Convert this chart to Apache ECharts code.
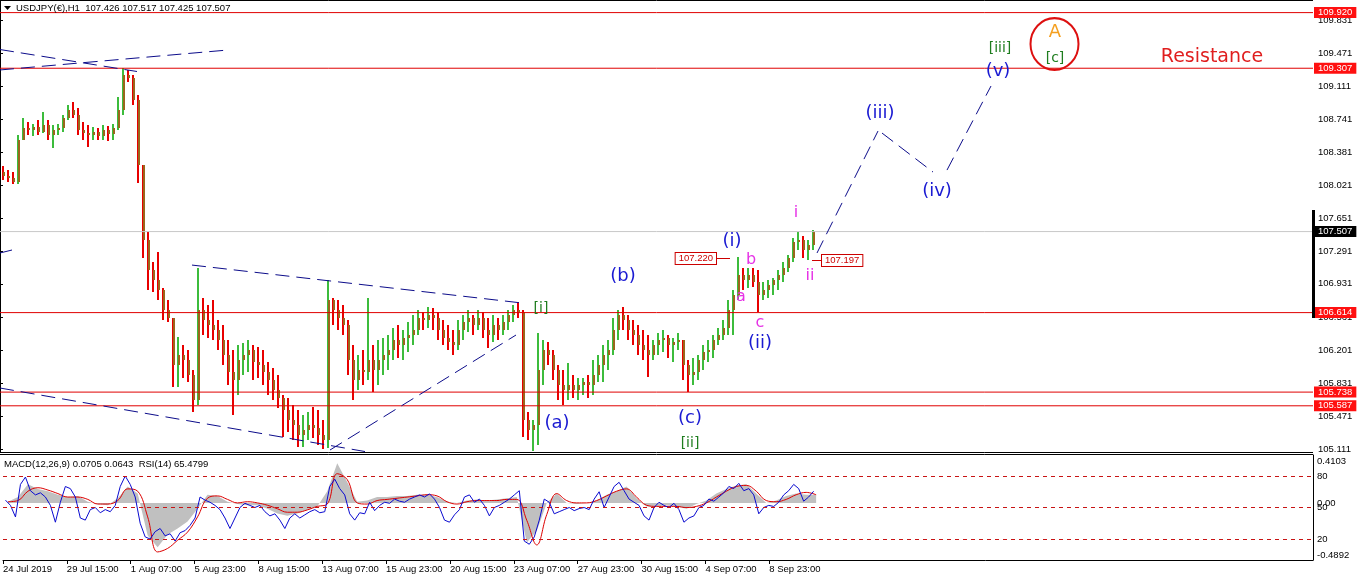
<!DOCTYPE html>
<html><head><meta charset="utf-8">
<script src="https://cdn.jsdelivr.net/npm/echarts@6/dist/echarts.min.js"></script>
<style>html,body{margin:0;padding:0;background:#fff}#c{width:1361px;height:584px}</style>
</head><body><div id="c"></div>
<script>
// ---------- DATA ----------
const HOURS_PER_BAR = 5;
const opens = [
108.163,108.119,108.097,108.053,108.516,108.648,108.626,108.659,108.604,108.681,
108.571,108.626,108.648,108.758,108.847,108.792,108.626,108.593,108.571,108.604,
108.560,108.626,108.582,108.648,108.847,109.232,109.199,108.957,108.241,107.414,
107.083,106.973,106.863,106.643,106.554,106.037,106.147,106.092,105.926,105.651,
106.643,106.532,106.477,106.422,106.312,106.147,105.959,105.871,106.092,106.147,
106.202,106.070,106.037,105.959,105.871,105.761,105.673,105.541,105.430,105.375,
105.265,105.320,105.375,105.342,105.265,105.210,106.753,106.643,106.554,106.477,
106.092,105.871,105.981,105.959,106.092,105.981,106.092,106.147,106.202,106.312,
106.257,106.334,106.367,106.422,106.554,106.532,106.587,106.554,106.422,106.334,
106.290,106.257,106.422,106.510,106.554,106.477,106.554,106.422,106.367,106.477,
106.422,106.510,106.587,106.643,106.620,105.430,105.320,105.375,105.981,106.202,
106.147,105.981,105.816,105.761,105.816,105.761,105.816,105.849,105.816,105.926,
106.037,106.147,106.202,106.422,106.587,106.532,106.422,106.367,106.257,106.202,
106.147,106.257,106.312,106.334,106.257,106.290,106.312,106.037,105.926,105.959,
106.092,106.180,106.202,106.312,106.367,106.444,106.643,106.808,107.028,106.973,
107.028,106.951,106.808,106.863,106.918,106.973,107.028,107.105,107.216,107.392,
107.414,107.304,107.359];
const highs = [
108.230,108.185,108.163,108.571,108.758,108.714,108.692,108.736,108.825,108.736,
108.681,108.692,108.792,108.902,108.935,108.869,108.714,108.681,108.659,108.648,
108.681,108.670,108.692,108.990,109.310,109.288,109.232,109.012,108.241,107.502,
107.171,107.282,106.885,106.753,106.554,106.345,106.257,106.202,105.981,107.105,
106.775,106.698,106.753,106.532,106.477,106.312,106.202,106.257,106.279,106.312,
106.257,106.235,106.202,106.070,106.003,105.926,105.706,105.673,105.596,105.541,
105.485,105.519,105.574,105.541,105.430,106.973,106.775,106.753,106.698,106.532,
106.257,106.147,106.202,106.775,106.257,106.312,106.334,106.367,106.444,106.477,
106.422,106.510,106.587,106.643,106.620,106.675,106.664,106.620,106.532,106.477,
106.422,106.532,106.587,106.643,106.587,106.643,106.620,106.554,106.587,106.554,
106.587,106.643,106.698,106.731,106.643,105.519,105.430,106.389,106.312,106.290,
106.202,106.037,105.981,106.059,105.926,105.893,105.893,105.926,106.092,106.147,
106.257,106.312,106.554,106.643,106.675,106.587,106.532,106.477,106.422,106.367,
106.312,106.389,106.422,106.367,106.334,106.389,106.312,106.092,106.114,106.147,
106.257,106.312,106.367,106.444,106.532,106.753,106.863,107.227,107.105,107.105,
107.105,107.083,106.951,106.973,106.995,107.083,107.171,107.249,107.436,107.502,
107.458,107.414,107.524];
const lows = [
108.075,108.053,108.031,108.031,108.516,108.571,108.560,108.571,108.593,108.516,
108.428,108.571,108.604,108.736,108.758,108.571,108.516,108.439,108.516,108.516,
108.516,108.505,108.516,108.626,108.792,109.155,108.902,108.042,107.216,106.863,
106.841,106.753,106.532,106.510,105.794,105.794,105.893,105.849,105.519,105.596,
106.367,106.334,106.312,106.202,106.037,105.816,105.485,105.706,105.926,105.959,
105.871,105.893,105.816,105.706,105.651,105.563,105.243,105.298,105.210,105.133,
105.133,105.210,105.232,105.155,105.111,105.122,106.477,106.422,106.367,105.926,
105.651,105.761,105.816,105.871,105.739,105.816,105.926,105.981,106.092,106.114,
106.092,106.180,106.257,106.367,106.422,106.444,106.422,106.312,106.257,106.202,
106.147,106.202,106.312,106.400,106.367,106.422,106.334,106.224,106.290,106.312,
106.367,106.422,106.510,106.554,105.243,105.210,105.090,105.155,105.816,106.037,
105.871,105.651,105.596,105.651,105.673,105.651,105.706,105.673,105.706,105.849,
105.849,105.981,106.147,106.312,106.422,106.312,106.257,106.147,106.092,105.904,
106.092,106.147,106.180,106.114,106.070,106.202,105.871,105.739,105.816,105.871,
105.981,106.070,106.114,106.257,106.312,106.367,106.367,106.753,106.863,106.885,
106.896,106.620,106.753,106.775,106.808,106.863,106.951,107.061,107.171,107.304,
107.216,107.194,107.304];
const closes = [
108.119,108.097,108.053,108.516,108.648,108.626,108.659,108.604,108.681,108.571,
108.626,108.648,108.758,108.847,108.792,108.626,108.593,108.571,108.604,108.560,
108.626,108.582,108.648,108.847,109.232,109.199,108.957,108.241,107.414,107.083,
106.973,106.863,106.643,106.554,106.037,106.147,106.092,105.926,105.651,106.643,
106.532,106.477,106.422,106.312,106.147,105.959,105.871,106.092,106.147,106.202,
106.070,106.037,105.959,105.871,105.761,105.673,105.541,105.430,105.375,105.265,
105.320,105.375,105.342,105.265,105.210,106.753,106.643,106.554,106.477,106.092,
105.871,105.981,105.959,106.092,105.981,106.092,106.147,106.202,106.312,106.257,
106.334,106.367,106.422,106.554,106.532,106.587,106.554,106.422,106.334,106.290,
106.257,106.422,106.510,106.554,106.477,106.554,106.422,106.367,106.477,106.422,
106.510,106.587,106.643,106.620,105.430,105.320,105.375,105.981,106.202,106.147,
105.981,105.816,105.761,105.816,105.761,105.816,105.849,105.816,105.926,106.037,
106.147,106.202,106.422,106.587,106.532,106.422,106.367,106.257,106.202,106.147,
106.257,106.312,106.334,106.257,106.290,106.312,106.037,105.926,105.959,106.092,
106.180,106.202,106.312,106.367,106.444,106.643,106.808,107.028,106.973,107.028,
106.951,106.808,106.863,106.918,106.973,107.028,107.105,107.216,107.392,107.414,
107.304,107.359,107.507];
const rsiValues = [
57,52,41,72,79,66,62,64,60,52, 36,55,70,68,60,40,38,48,50,45,
48,46,52,70,80,72,60,35,22,20, 27,30,23,25,18,26,28,33,40,60,
57,55,52,48,40,30,40,50,54,52, 50,52,46,42,44,38,30,40,44,40,
43,46,48,45,46,70,77,68,62,44, 38,45,44,55,47,52,55,54,58,56,
55,58,60,62,60,63,58,50,38,36, 43,48,60,62,55,58,52,42,50,52,
55,58,62,66,18,15,22,38,58,55, 44,46,48,50,47,49,50,48,58,65,
50,60,70,74,66,58,55,52,42,38, 50,55,52,50,54,48,36,40,42,50,
52,58,56,60,64,70,68,73,66,68, 62,44,50,52,51,55,62,66,72,68,
56,60,65.48];
const MACD_STEP = 10;
const macdHist = [
0.01,0.05,0.16,0.12,0.10,0.07,0.05,0.06,0.01,-0.01,
-0.02,0.04,0.14,0.08,-0.28,-0.38,-0.27,-0.22,-0.16,-0.05,
0.07,0.06,0.01,-0.01,-0.02,-0.02,-0.05,-0.09,-0.11,-0.09,
-0.06,-0.03,0.10,0.34,0.18,0.01,0.02,0.05,0.05,0.06,
0.06,0.07,0.07,0.05,0.01,0.00,0.02,0.03,0.02,0.03,
0.04,0.05,-0.34,-0.24,0.00,0.08,0.00,-0.01,0.00,0.02,
0.07,0.10,0.14,0.04,-0.03,-0.03,-0.02,-0.03,-0.05,-0.01,
0.02,0.08,0.12,0.15,0.16,0.08,0.00,0.02,0.06,0.08,
0.07,0.07];
const macdSignal = [
0.01,0.02,0.10,0.13,0.11,0.08,0.05,0.05,0.03,-0.01,
-0.01,0.02,0.12,0.10,-0.12,-0.42,-0.39,-0.32,-0.25,-0.12,
0.04,0.06,0.03,0.00,0.01,0.00,-0.02,-0.05,-0.08,-0.08,
-0.06,-0.03,-0.01,0.25,0.20,0.00,-0.01,0.02,0.03,0.04,
0.05,0.06,0.07,0.06,0.01,-0.01,0.01,0.02,0.02,0.02,
0.03,0.03,-0.15,-0.36,-0.10,0.08,0.02,0.00,0.00,0.02,
0.06,0.10,0.12,0.05,-0.02,-0.03,-0.03,-0.03,-0.04,-0.03,
0.00,0.05,0.10,0.14,0.15,0.10,0.02,0.01,0.03,0.07,
0.09,0.07];
const priceTicks = ['105.111','105.471','105.831','106.201','106.561','106.931','107.291','107.651','108.021','108.381','108.741','109.111','109.471','109.831'];
const timeLabels = ['24 Jul 2019','29 Jul 15:00','1 Aug 07:00','5 Aug 23:00','8 Aug 15:00','13 Aug 07:00','15 Aug 23:00','20 Aug 15:00','23 Aug 07:00','27 Aug 23:00','30 Aug 15:00','4 Sep 07:00','8 Sep 23:00'];
const HOURS_PER_TIME_LABEL = 64;
const levelPrices = [109.920, 109.307, 106.614, 105.738, 105.587];
const lastPrice = 107.507;
const headerSymbol = 'USDJPY(€),H1';
const headerQuote = ['107.426','107.517','107.425','107.507'];
const macdHeaderValues = ['0.0705','0.0643'];
const rsiHeaderValue = '65.4799';
const macdTicks = ['0.4103','0.00','-0.4892'];
const rsiTicks = ['20','50','80'];
const rsiLevels = [80, 50, 20];

// annotations (time-hour, price)
const waveLabels = [
 {t:'[i]', x:541, p:106.665, k:'green'},
 {t:'[ii]', x:690, p:105.177, k:'green'},
 {t:'[iii]', x:1000, p:109.530, k:'green'},
 {t:'[c]', x:1055, p:109.420, k:'green'},
 {t:'A', x:1055, p:109.700, k:'orange'},
 {t:'(a)', x:557, p:105.397, k:'blue'},
 {t:'(b)', x:623, p:107.017, k:'blue'},
 {t:'(c)', x:690, p:105.452, k:'blue'},
 {t:'(i)', x:732, p:107.403, k:'blue'},
 {t:'(ii)', x:760, p:106.279, k:'blue'},
 {t:'(iii)', x:880, p:108.814, k:'blue'},
 {t:'(iv)', x:937, p:107.954, k:'blue'},
 {t:'(v)', x:998, p:109.277, k:'blue'},
 {t:'a', x:741, p:106.786, k:'pink'},
 {t:'b', x:751, p:107.194, k:'pink'},
 {t:'c', x:760, p:106.499, k:'pink'},
 {t:'i', x:796, p:107.712, k:'pink'},
 {t:'ii', x:810, p:107.017, k:'pink'},
 {t:'Resistance', x:1212, p:109.431, k:'res'}
];
const trendLines = [
 [[0,109.513],[137,109.271]],
 [[0,109.288],[228,109.508]],
 [[0,107.271],[12,107.304]],
 [[192,107.138],[522,106.720]],
 [[0,105.783],[365,105.083]],
 [[330,105.100],[516,106.367]],
 [[817,107.271],[878,108.615]],
 [[882,108.593],[933,108.163]],
 [[947,108.185],[991,109.111]]
];
const priceTags = [
 {v:'107.220', x:730, p:107.220, side:'left'},
 {v:'107.197', x:812, p:107.197, side:'right'}
];
const circleMark = [[1054.5, 109.574]];

// ---------- STYLE ----------
const FONT = '"Liberation Sans", Arial, sans-serif';
const UP = '#3cbc3c', DOWN = '#e80000', BODY = '#9a661c';
const NAVY = '#0c0c8a';
const LEVEL_RED = '#e00000';
const labelStyles = {
 green: {color:'#1e7d1e', font:'14px "DejaVu Sans"'},
 blue: {color:'#1a1ad2', font:'18px "DejaVu Sans"'},
 pink: {color:'#e632e6', font:'16px "DejaVu Sans"'},
 orange: {color:'#f5a020', font:'18px "DejaVu Sans"'},
 res: {color:'#e01e1e', font:'19px "DejaVu Sans"'}
};

const X_MAX = 1313;
const candleData = closes.map((c,i)=>[i*HOURS_PER_BAR + HOURS_PER_BAR/2, opens[i], c, lows[i], highs[i]]);
const rsiData = rsiValues.map((v,i)=>[i*HOURS_PER_BAR + HOURS_PER_BAR/2, v]);
const histData = macdHist.map((v,i)=>[i*MACD_STEP + MACD_STEP/2, v]);
const sigData = macdSignal.map((v,i)=>[i*MACD_STEP + MACD_STEP/2, v]);
const timeTickValues = timeLabels.map((_,i)=>i*HOURS_PER_TIME_LABEL);
const macdTickValues = macdTicks.map(Number);

function renderCandle(params, api){
  const x = api.value(0), o = api.value(1), c = api.value(2), l = api.value(3), h = api.value(4);
  const pt = api.coord([x,h]), pb = api.coord([x,l]), po = api.coord([x,o]), pc = api.coord([x,c]);
  const up = c >= o;
  const cx = Math.round(pt[0]);
  const bt = Math.min(po[1], pc[1]);
  const bh = Math.max(1, Math.abs(po[1]-pc[1]));
  return {type:'group', children:[
    {type:'rect', shape:{x:cx-1, y:pt[1], width:2, height:Math.max(1,pb[1]-pt[1])}, style:{fill: up?UP:DOWN}},
    {type:'rect', shape:{x:cx, y:bt, width:2, height:bh}, style:{fill: BODY}}
  ]};
}

function levelSeries(p, lineColor, boxColor){
  return {
    type:'line', xAxisIndex:0, yAxisIndex:0, data:[[0,p],[X_MAX,p]], symbol:'none', silent:true, z:3,
    lineStyle:{color:lineColor, width:1, type:'solid'},
    endLabel:{show:true, formatter:p.toFixed(3), backgroundColor:boxColor, color:'#fff',
      padding:[1,4,0,4], distance:1, fontSize:9.5, fontFamily:FONT, lineHeight:10}
  };
}

const series = [];
series.push({
  type:'custom', name:'price', xAxisIndex:0, yAxisIndex:0, data:candleData,
  encode:{x:0, y:[1,2,3,4]}, renderItem:renderCandle, z:2, silent:true
});
series.push(levelSeries(lastPrice, '#c8c8c8', '#000'));
levelPrices.forEach(p=>series.push(levelSeries(p, LEVEL_RED, '#ff1010')));
trendLines.forEach(seg=>{
  series.push({type:'line', xAxisIndex:0, yAxisIndex:0, data:seg, symbol:'none', silent:true, z:4,
    lineStyle:{color:NAVY, width:1, type:[14,7]}});
});
series.push({
  type:'custom', xAxisIndex:0, yAxisIndex:0, clip:false, z:6, silent:true,
  data: waveLabels.map(w=>[w.x, w.p]),
  renderItem:(params, api)=>{
    const w = waveLabels[params.dataIndex];
    const pt = api.coord([api.value(0), api.value(1)]);
    const st = labelStyles[w.k];
    return {type:'text', x:pt[0], y:pt[1], style:{text:w.t, fill:st.color, font:st.font, align:'center', verticalAlign:'middle'}};
  }
});
series.push({
  type:'custom', xAxisIndex:0, yAxisIndex:0, clip:false, z:6, silent:true,
  data: priceTags.map(t=>[t.x, t.p]),
  renderItem:(params, api)=>{
    const t = priceTags[params.dataIndex];
    const pt = api.coord([api.value(0), api.value(1)]);
    const left = t.side === 'left';
    const lx2 = left ? pt[0]-14 : pt[0]+10;
    const y = Math.round(pt[1]) + 0.5;
    return {type:'group', children:[
      {type:'line', shape:{x1:pt[0], y1:y, x2:lx2, y2:y}, style:{stroke:'#cc0000', lineWidth:1}},
      {type:'text', x:lx2, y:y, style:{text:t.v, fill:'#cc0000', font:'9.5px '+FONT, align:left?'right':'left', verticalAlign:'middle',
        backgroundColor:'#fff', borderColor:'#cc0000', borderWidth:1, padding:[1,3,0,3]}}
    ]};
  }
});
series.push({
  type:'custom', xAxisIndex:0, yAxisIndex:0, clip:false, z:5, silent:true,
  data: circleMark,
  renderItem:(params, api)=>{
    const pt = api.coord([api.value(0), api.value(1)]);
    return {type:'circle', x:pt[0], y:pt[1], scaleY:1.08, shape:{cx:0, cy:0, r:24}, style:{fill:'none', stroke:'#dd1010', lineWidth:2}};
  }
});
// lower panel
series.push({
  type:'line', xAxisIndex:1, yAxisIndex:1, data:histData, symbol:'none', silent:true, z:1,
  lineStyle:{width:0, color:'#c0c0c0'}, areaStyle:{color:'#c0c0c0', opacity:1}
});
series.push({
  type:'line', xAxisIndex:1, yAxisIndex:1, data:sigData, symbol:'none', silent:true, z:3, smooth:0.4,
  lineStyle:{width:1, color:'#dd0000'}
});
series.push({
  type:'line', xAxisIndex:1, yAxisIndex:2, data:rsiData, symbol:'none', silent:true, z:4,
  lineStyle:{width:1, color:'#0a0ad0'},
  markLine:{symbol:['none','none'], silent:true, animation:false, label:{show:false},
    lineStyle:{color:'#c81414', width:1, type:[4,4]}, data: rsiLevels.map(v=>({yAxis:v}))}
});

const option = {
  animation:false,
  backgroundColor:'#fff',
  textStyle:{fontFamily:FONT},
  grid:[
    {left:0, top:0, width:X_MAX, height:452},
    {left:0, top:455, width:X_MAX, height:105}
  ],
  xAxis:[
    {gridIndex:0, type:'value', min:0, max:X_MAX, show:false},
    {gridIndex:1, type:'value', min:0, max:X_MAX, position:'bottom',
     axisLine:{show:true, onZero:false, lineStyle:{color:'#000', width:1}},
     axisTick:{show:true, length:4, customValues:timeTickValues, lineStyle:{color:'#000'}},
     axisLabel:{customValues:timeTickValues, formatter:v=>timeLabels[Math.round(v/HOURS_PER_TIME_LABEL)],
       align:'left', color:'#000', fontSize:9.5, margin:4, fontFamily:FONT},
     splitLine:{show:false}}
  ],
  yAxis:[
    {gridIndex:0, type:'value', position:'right', min:105.078, max:110.059,
     axisLine:{show:true, lineStyle:{color:'#000', width:1}},
     axisTick:{show:true, length:3, customValues:priceTicks.map(Number), lineStyle:{color:'#000'}},
     axisLabel:{customValues:priceTicks.map(Number), formatter:v=>v.toFixed(3), color:'#000', fontSize:9.5, margin:5, fontFamily:FONT},
     splitLine:{show:false}},
    {gridIndex:1, type:'value', position:'right', min:-0.4892, max:0.4103,
     axisLine:{show:true, onZero:false, lineStyle:{color:'#000', width:1}},
     axisTick:{show:false},
     axisLabel:{customValues:macdTickValues, margin:4, color:'#000', fontSize:9.5, fontFamily:FONT,
       formatter:v=>{
         const i = macdTickValues.findIndex(t=>Math.abs(t-v)<1e-6);
         const s = macdTicks[i];
         if (i === 0) return '{top|'+s+'}';
         if (i === macdTicks.length-1) return '{bot|'+s+'}';
         return '{mid|'+s+'}';
       },
       rich:{
         top:{padding:[13,0,0,0], fontSize:9.5, color:'#000', fontFamily:FONT},
         bot:{padding:[0,0,10,0], fontSize:9.5, color:'#000', fontFamily:FONT},
         mid:{padding:[0,0,0,0], fontSize:9.5, color:'#000', fontFamily:FONT}
       }},
     splitLine:{show:false}},
    {gridIndex:1, type:'value', position:'right', min:0, max:100,
     axisLine:{show:false}, axisTick:{show:false},
     axisLabel:{customValues:rsiTicks.map(Number), formatter:v=>rsiTicks[rsiTicks.indexOf(String(v))], margin:4, color:'#000', fontSize:9.5, fontFamily:FONT},
     splitLine:{show:false}}
  ],
  graphic:[
    {type:'line', shape:{x1:0, y1:0.5, x2:X_MAX, y2:0.5}, style:{stroke:'#000', lineWidth:1}, z:10},
    {type:'line', shape:{x1:0, y1:452.5, x2:X_MAX, y2:452.5}, style:{stroke:'#000', lineWidth:1}, z:10},
    {type:'line', shape:{x1:0, y1:454.5, x2:X_MAX, y2:454.5}, style:{stroke:'#000', lineWidth:1}, z:10},
    {type:'rect', shape:{x:1312, y:210, width:3, height:108}, style:{fill:'#000'}, z:10},
    {type:'polygon', shape:{points:[[4,6],[11,6],[7.5,10]]}, style:{fill:'#000'}, z:10},
    {type:'text', x:16, y:8, z:10, style:{text:headerSymbol+'  '+headerQuote.join(' '), fill:'#000', font:'9.5px '+FONT, verticalAlign:'middle'}},
    {type:'text', x:4, y:464, z:10, style:{text:'MACD(12,26,9) '+macdHeaderValues.join(' ')+'  RSI(14) '+rsiHeaderValue, fill:'#000', font:'9.5px '+FONT, verticalAlign:'middle'}}
  ],
  series
};
const chart = echarts.init(document.getElementById('c'), null, {renderer:'canvas', width:1361, height:584});
chart.setOption(option);
</script></body></html>
